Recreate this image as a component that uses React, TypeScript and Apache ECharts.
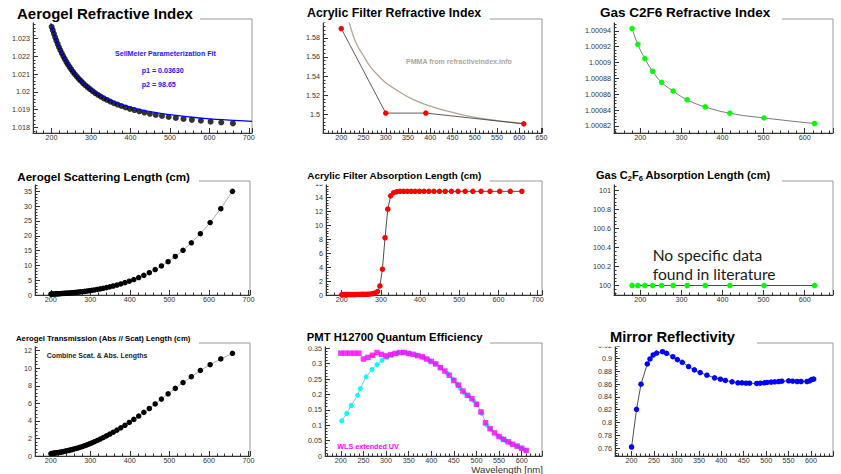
import React, { useEffect, useRef } from 'react';
import * as echarts from 'echarts';

// ---------- data ----------
const aerogelLambda = [659.6, 630.1, 603.1, 578.4, 555.6, 534.5, 515.0, 496.8, 479.9, 464.1, 449.3, 435.4, 422.3, 410.1, 398.5, 387.5, 377.1, 367.3, 358.0, 349.1, 340.7, 332.6, 324.9, 317.6, 310.6, 303.9, 297.5, 291.4, 285.5, 279.8, 274.3, 269.1, 264.1, 259.2, 254.5, 250.0, 245.6, 241.4, 237.4, 233.4, 229.6, 225.9, 222.4, 218.9, 215.6, 212.3, 209.2, 206.1, 203.1, 200.3];
const aerogelIndex = [1.01822, 1.01827, 1.01832, 1.01837, 1.01842, 1.01847, 1.01853, 1.01858, 1.01864, 1.0187, 1.01876, 1.01883, 1.0189, 1.01897, 1.01904, 1.01912, 1.0192, 1.01928, 1.01936, 1.01945, 1.01954, 1.01963, 1.01973, 1.01983, 1.01993, 1.02004, 1.02015, 1.02026, 1.02037, 1.02049, 1.02061, 1.02073, 1.02086, 1.02099, 1.02112, 1.02126, 1.0214, 1.02155, 1.02169, 1.02185, 1.02201, 1.02217, 1.02234, 1.02251, 1.02269, 1.02288, 1.02307, 1.02327, 1.02347, 1.02366];
const fitLambda = [198, 200, 210, 225, 250, 275, 300, 350, 400, 450, 500, 550, 600, 650, 700, 708];
const fitIndex = [1.02385, 1.0237, 1.02302, 1.02222, 1.02127, 1.02061, 1.02014, 1.01952, 1.01914, 1.01888, 1.01871, 1.01858, 1.01848, 1.01841, 1.01835, 1.01834];

const acrylicLambda = [200, 300, 390, 610];
const acrylicIndex = [1.5898, 1.5011, 1.5011, 1.4898];
const pmmaLambda = [216, 225, 235, 249, 265, 286, 300, 325, 361, 400, 436, 475, 511, 550, 586, 610];
const pmmaIndex = [1.5998, 1.585, 1.573, 1.562, 1.55, 1.539, 1.533, 1.525, 1.5154, 1.5085, 1.5035, 1.499, 1.4958, 1.4932, 1.4912, 1.49];

const gasLambda = [180, 194, 211, 230, 252, 280, 314, 358, 418, 501, 624];
const gasIndex = [1.000943, 1.000923, 1.000905, 1.000889, 1.000875, 1.000864, 1.000853, 1.000844, 1.000836, 1.00083, 1.000823];
const gasAbsLength = [100, 100, 100, 100, 100, 100, 100, 100, 100, 100, 100];

const scatteringLength = [35.0, 29.15, 24.46, 20.69, 17.62, 15.09, 13.01, 11.26, 9.81, 8.58, 7.54, 6.65, 5.88, 5.23, 4.66, 4.17, 3.74, 3.37, 3.04, 2.75, 2.49, 2.26, 2.06, 1.88, 1.72, 1.58, 1.45, 1.33, 1.23, 1.13, 1.05, 0.97, 0.9, 0.83, 0.78, 0.72, 0.67, 0.63, 0.59, 0.55, 0.51, 0.48, 0.45, 0.42, 0.4, 0.38, 0.35, 0.33, 0.31, 0.3];
const acrylicAbsLength = [14.85, 14.85, 14.85, 14.85, 14.85, 14.85, 14.85, 14.85, 14.85, 14.85, 14.85, 14.85, 14.85, 14.85, 14.85, 14.85, 14.85, 14.85, 14.85, 14.85, 14.8, 14.65, 14.2, 12.3, 8.2, 3.7, 1.3, 0.5, 0.3, 0.2, 0.15, 0.12, 0.1, 0.1, 0.09, 0.09, 0.08, 0.08, 0.08, 0.07, 0.07, 0.07, 0.06, 0.06, 0.06, 0.06, 0.05, 0.05, 0.05, 0.05];
const transmissionLength = [11.7, 11.05, 10.4, 9.74, 9.03, 8.37, 7.7, 7.08, 6.49, 5.93, 5.41, 4.97, 4.55, 4.17, 3.82, 3.5, 3.21, 2.95, 2.71, 2.49, 2.29, 2.1, 1.93, 1.77, 1.63, 1.5, 1.38, 1.27, 1.17, 1.08, 1.0, 0.92, 0.86, 0.8, 0.74, 0.69, 0.64, 0.6, 0.56, 0.52, 0.48, 0.45, 0.42, 0.39, 0.37, 0.35, 0.33, 0.31, 0.29, 0.27];

const qeLambdaCyan = [202, 213, 223, 237, 243, 256, 269, 280, 291, 302, 313, 325, 338, 352, 366, 383, 396, 409, 421, 436, 448, 457, 464, 473, 483, 494, 501, 512, 523, 532, 547, 556, 564, 575, 591, 599, 608];
const qeCyan = [0.114, 0.138, 0.164, 0.197, 0.219, 0.257, 0.281, 0.297, 0.311, 0.32, 0.327, 0.333, 0.336, 0.333, 0.328, 0.32, 0.31, 0.3, 0.286, 0.268, 0.25, 0.234, 0.22, 0.205, 0.195, 0.18, 0.168, 0.138, 0.1, 0.086, 0.066, 0.057, 0.051, 0.042, 0.031, 0.026, 0.019];
const qeLambdaWls = [200, 210, 220, 230, 240, 250, 260, 270, 280, 290, 300, 310, 320, 330, 340, 350, 360, 370, 380, 390, 400, 410, 420, 430, 440, 450, 460, 470, 480, 490, 500, 510, 520, 530, 540, 550, 560, 570, 580, 590, 600, 610];
const qeWls = [0.334, 0.334, 0.334, 0.334, 0.334, 0.315, 0.32, 0.327, 0.336, 0.33, 0.325, 0.329, 0.333, 0.336, 0.336, 0.333, 0.33, 0.326, 0.322, 0.315, 0.307, 0.299, 0.287, 0.276, 0.262, 0.245, 0.23, 0.211, 0.197, 0.186, 0.168, 0.143, 0.108, 0.089, 0.075, 0.063, 0.054, 0.046, 0.038, 0.032, 0.025, 0.018];

const mirrorLambda = [200, 211, 221, 235, 241, 248, 256, 269, 278, 292, 302, 313, 327, 340, 353, 368, 385, 398, 409, 424, 437, 446, 455, 463, 479, 487, 496, 502, 511, 519, 528, 535, 550, 559, 569, 578, 591, 597, 602, 606];
const mirrorRefl = [0.7616, 0.8207, 0.86, 0.8917, 0.8995, 0.9057, 0.9088, 0.9109, 0.9083, 0.9031, 0.8985, 0.8943, 0.8876, 0.8824, 0.8782, 0.8741, 0.8699, 0.8678, 0.8658, 0.8637, 0.8621, 0.8621, 0.8616, 0.8616, 0.8611, 0.8616, 0.8621, 0.8627, 0.8632, 0.8637, 0.8642, 0.8647, 0.8653, 0.8647, 0.8642, 0.8642, 0.8642, 0.8653, 0.8674, 0.868];

// axis ranges / tick steps
const xRanges = [[153, 708], [159, 651], [136, 669], [160, 704], [160, 711], [136, 669], [160, 704], [165, 645], [163, 649]];
const xSplit = [5, 10, 5, 5, 5, 5, 5, 10, 10];
const xStep = [100, 50, 100, 100, 100, 100, 100, 50, 50];
const yRanges = [[1.01768, 1.0241], [1.4802, 1.5998], [1.000811, 1.000955], [0, 38.5], [0, 16.33], [99.9, 101.1], [0, 12.87], [0, 0.367], [0.7475, 0.9245]];
const ySplit = [5, 5, 7, 8, 8, 5, 6, 7, 8];
const yStep = [0.001, 0.02, 0.00002, 5, 2, 0.2, 2, 0.05, 0.02];
const yHideAbove = [1.0235, 999, 999, 999, 999, 999, 999, 999, 999];

// ---------- layout ----------
const frames = [
  { left: 33, top: 19, width: 219, height: 114, titleEnd: 200 },
  { left: 323, top: 19, width: 219, height: 114, titleEnd: 490 },
  { left: 614, top: 19, width: 219, height: 114, titleEnd: 782 },
  { left: 35, top: 181, width: 215, height: 114, titleEnd: 199 },
  { left: 326, top: 181, width: 216, height: 114, titleEnd: 490 },
  { left: 614, top: 181, width: 219, height: 114, titleEnd: 782 },
  { left: 35, top: 343, width: 215, height: 113, titleEnd: 199 },
  { left: 325, top: 343, width: 217, height: 113, titleEnd: 490 },
  { left: 615, top: 343, width: 218, height: 113, titleEnd: 757 },
];

const FONT = "'Liberation Sans', Arial, Helvetica, sans-serif";
const NOTE_FONT = "Lato, 'Open Sans', sans-serif";

const pairs = (xs: number[], ys: number[]) => xs.map((x, i) => [x, ys[i]]);

const fmt = (step: number, hideAbove: number) => (v: number) => {
  const k = v / step;
  if (Math.abs(k - Math.round(k)) > 1e-4) return '';
  if (v > hideAbove) return '';
  return String(parseFloat(v.toFixed(8)));
};

const axisCommon = (gridIndex: number, min: number, max: number, split: number, formatter: any, margin: number) => ({
  type: 'value',
  gridIndex,
  min,
  max,
  splitNumber: split,
  axisLine: { show: true, onZero: false, lineStyle: { color: '#333', width: 1 } },
  axisTick: { show: true, inside: true, length: 5, lineStyle: { color: '#333', width: 1 } },
  minorTick: { show: true, splitNumber: 5, length: 2.5, lineStyle: { color: '#333', width: 1 } },
  splitLine: { show: false },
  minorSplitLine: { show: false },
  axisLabel: { fontSize: 7.2, color: '#333', fontFamily: FONT, margin, formatter },
});

const titleText = (x: number, baseline: number, text: string, fs: number, extra: any = {}) => ({
  type: 'text',
  x,
  y: baseline - 0.3465 * fs,
  z: 110,
  style: {
    text,
    fontSize: fs,
    fontFamily: FONT,
    fontWeight: 'bold',
    fill: '#000',
    align: 'left',
    verticalAlign: 'middle',
    ...extra,
  },
});

export default function App() {
  const ref = useRef<HTMLDivElement>(null);

  useEffect(() => {
    if (!ref.current) return;
    const chart = echarts.init(ref.current, null, { renderer: 'svg' });

    const grid = frames.map((f) => ({
      left: f.left,
      top: f.top,
      width: f.width,
      height: f.height,
      show: true,
      borderColor: '#999',
      borderWidth: 1,
      backgroundColor: 'transparent',
      containLabel: false,
    }));

    const xAxis = frames.map((_, i) => axisCommon(i, xRanges[i][0], xRanges[i][1], xSplit[i], fmt(xStep[i], 1e9), 0.5));
    const yAxis = frames.map((_, i) => axisCommon(i, yRanges[i][0], yRanges[i][1], ySplit[i], fmt(yStep[i], yHideAbove[i]), 3));

    const dotLine = (i: number, xs: number[], ys: number[], color: string, lineColor: string, size = 5.5, smooth: any = false) => ({
      type: 'line',
      xAxisIndex: i,
      yAxisIndex: i,
      data: pairs(xs, ys),
      symbol: 'circle',
      symbolSize: size,
      showSymbol: true,
      smooth,
      itemStyle: { color, borderWidth: 0 },
      lineStyle: { color: lineColor, width: 0.8 },
      z: 3,
    });

    const series: any[] = [
      // P1
      {
        type: 'scatter', xAxisIndex: 0, yAxisIndex: 0, data: pairs(aerogelLambda, aerogelIndex),
        symbol: 'circle', symbolSize: 6, itemStyle: { color: '#000' }, z: 2,
      },
      {
        type: 'line', xAxisIndex: 0, yAxisIndex: 0, data: pairs(fitLambda, fitIndex), smooth: true,
        showSymbol: false, symbol: 'none', lineStyle: { color: '#0000ff', width: 1.3 }, z: 4,
      },
      // P2
      {
        type: 'line', xAxisIndex: 1, yAxisIndex: 1, data: pairs(pmmaLambda, pmmaIndex), smooth: true,
        showSymbol: false, symbol: 'none', lineStyle: { color: '#b3a595', width: 1.3 }, z: 2,
      },
      dotLine(1, acrylicLambda, acrylicIndex, '#ff0000', '#333'),
      // P3
      dotLine(2, gasLambda, gasIndex, '#00ff00', '#555', 5.5, true),
      // P4
      dotLine(3, aerogelLambda, scatteringLength, '#000', '#999'),
      // P5
      dotLine(4, aerogelLambda, acrylicAbsLength, '#ff0000', '#222'),
      // P6
      dotLine(5, gasLambda, gasAbsLength, '#00ff00', '#222'),
      // P7
      dotLine(6, aerogelLambda, transmissionLength, '#000', '#999'),
      // P8
      dotLine(7, qeLambdaCyan, qeCyan, '#00ffff', '#999', 5),
      {
        type: 'scatter', xAxisIndex: 7, yAxisIndex: 7, data: pairs(qeLambdaWls, qeWls),
        symbol: 'rect', symbolSize: 5.5, itemStyle: { color: '#ff00ff' }, z: 4,
      },
      // P9
      dotLine(8, mirrorLambda, mirrorRefl, '#0000ff', '#222'),
    ];

    const graphic: any[] = [];
    frames.forEach((f) => {
      graphic.push({
        type: 'rect',
        z: 100,
        shape: { x: f.left - 30, y: f.top - 22, width: f.titleEnd - (f.left - 30), height: 25.5 },
        style: { fill: '#fff' },
      });
    });

    graphic.push(titleText(17, 18.3, 'Aerogel Refractive Index', 15));
    graphic.push(titleText(307, 17.5, 'Acrylic Filter Refractive Index', 12.4));
    graphic.push(titleText(600, 17.5, 'Gas C2F6 Refractive Index', 13.5));
    graphic.push(titleText(17.3, 180.3, 'Aerogel Scattering Length (cm)', 11.6));
    graphic.push(titleText(307.3, 178.8, 'Acrylic Filter Absorption Length (cm)', 9.9));
    graphic.push({
      type: 'text',
      x: 596,
      y: 175.2,
      z: 110,
      style: {
        text: '{m|Gas C}{s|2}{m|F}{s|6}{m| Absorption Length (cm)}',
        align: 'left',
        verticalAlign: 'middle',
        rich: {
          m: { fontSize: 11, fontFamily: FONT, fontWeight: 'bold', fill: '#000', color: '#000', lineHeight: 14, verticalAlign: 'middle' },
          s: { fontSize: 7.5, fontFamily: FONT, fontWeight: 'bold', fill: '#000', color: '#000', lineHeight: 7, verticalAlign: 'bottom' },
        },
      },
    });
    graphic.push(titleText(16, 340.7, 'Aerogel Transmission (Abs // Scat) Length (cm)', 7.75));
    graphic.push(titleText(306.7, 340.7, 'PMT H12700 Quantum Efficiency', 11.3));
    graphic.push(titleText(610, 341.7, 'Mirror Reflectivity', 14.7));

    // annotations
    const note = (x: number, yc: number, text: string, fs: number, fill: string, weight = 'bold', family = FONT, align = 'left') => ({
      type: 'text',
      x,
      y: yc,
      z: 110,
      style: { text, fontSize: fs, fontFamily: family, fontWeight: weight, fill, align, verticalAlign: 'middle' },
    });
    graphic.push(note(115, 54, 'SellMeier Parameterization Fit', 7.1, '#2020ff'));
    graphic.push(note(141.7, 70.7, 'p1 = 0.03630', 7.1, '#2020ff'));
    graphic.push(note(141.7, 85, 'p2 = 98.65', 7.1, '#2020ff'));
    graphic.push(note(406, 61.7, 'PMMA from refractiveindex.info', 7.05, '#b3a595'));
    graphic.push(note(652.7, 255, 'No specific data', 15.6, '#1a1a1a', 'normal', NOTE_FONT));
    graphic.push(note(652.7, 274.3, 'found in literature', 15.6, '#1a1a1a', 'normal', NOTE_FONT));
    graphic.push(note(46.7, 355, 'Combine Scat. & Abs. Lengths', 6.95, '#222'));
    graphic.push(note(337.3, 446.7, 'WLS extended UV', 7.2, '#ff00ff'));
    graphic.push(note(543, 469.8, 'Wavelength [nm]', 9.6, '#333', 'normal', FONT, 'right'));

    chart.setOption({
      animation: false,
      backgroundColor: '#fff',
      grid,
      xAxis,
      yAxis,
      series,
      graphic,
    });

    return () => chart.dispose();
  }, []);

  return (
    <div
      ref={ref}
      style={{ position: 'absolute', left: 0, top: 0, width: 841, height: 474, background: '#fff' }}
    />
  );
}
